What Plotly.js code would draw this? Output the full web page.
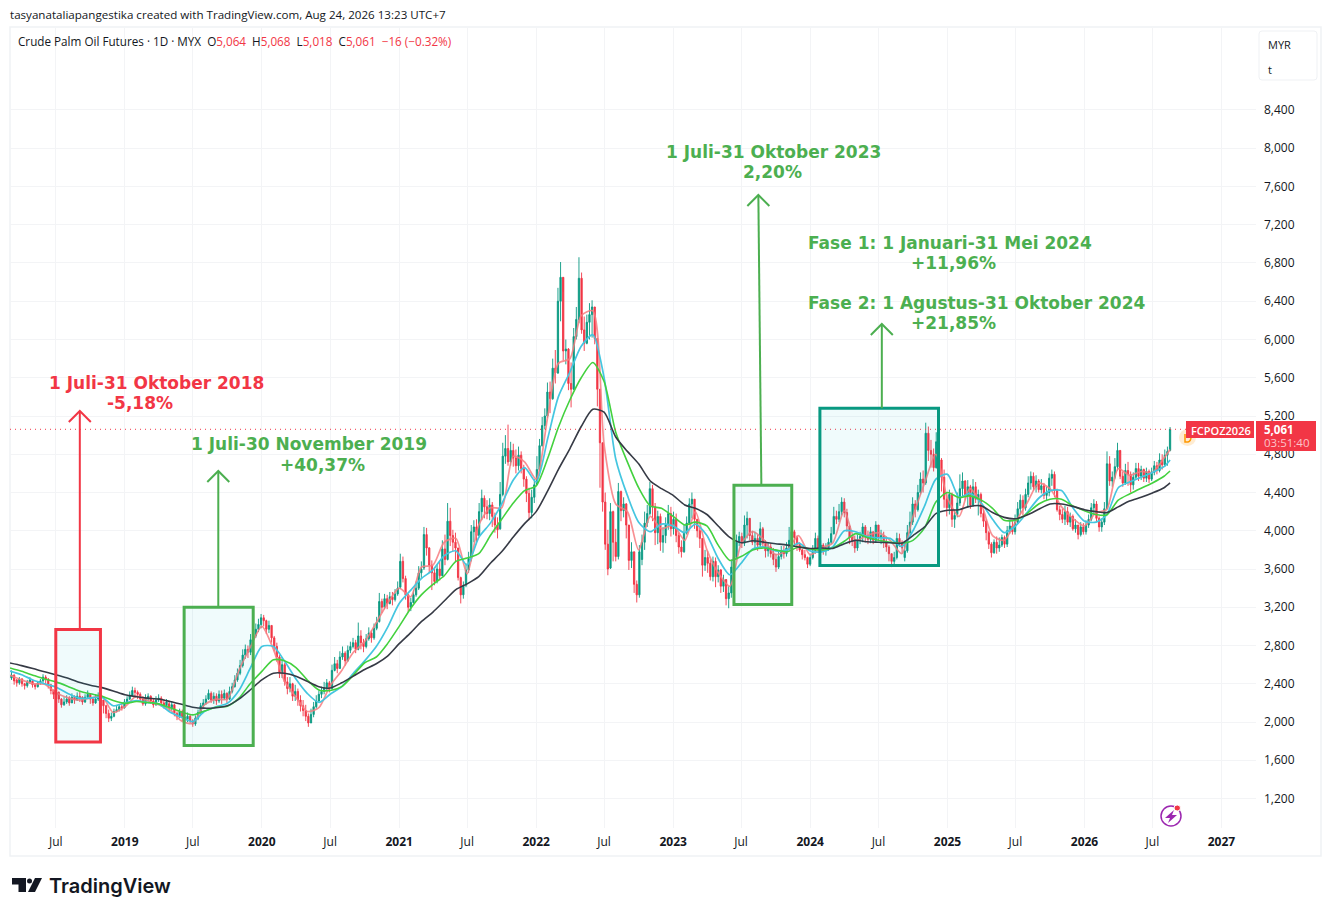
<!DOCTYPE html>
<html>
<head>
<meta charset="utf-8">
<title>Crude Palm Oil Futures</title>
<script src="https://cdn.plot.ly/plotly-3.0.1.min.js"></script>
<style>
  html, body { margin: 0; padding: 0; background: #fff; overflow: hidden; }
  #chart { width: 1331px; height: 916px; }
</style>
</head>
<body>
<div id="chart"></div>
<script>
// weekly bars, one row = 20 weeks
const barStart = '2018-03-05';
const opens = [
  2460,2490,2440,2410,2450,2400,2380,2420,2430,2390,2370,2410,2430,2470,2450,2390,2330,2280,2310,2240,
  2180,2210,2250,2200,2260,2230,2270,2260,2210,2260,2290,2240,2200,2240,2270,2230,2170,2090,2040,2060,
  2110,2130,2160,2150,2210,2240,2280,2330,2310,2290,2240,2190,2250,2270,2220,2180,2230,2250,2200,2170,
  2190,2150,2180,2090,2060,2110,2050,2030,2060,2010,1980,2040,2100,2170,2200,2240,2300,2230,2270,2220,
  2290,2250,2300,2240,2320,2370,2440,2510,2590,2700,2760,2730,2860,2900,2970,3020,3090,3060,2970,3010,
  2880,2790,2680,2510,2600,2420,2350,2400,2270,2320,2230,2170,2120,2060,1990,2080,2160,2220,2290,2320,
  2360,2410,2350,2540,2610,2560,2680,2720,2640,2750,2790,2830,2760,2900,2830,2790,2870,2930,2880,2980,
  3050,3260,3200,3290,3240,3310,3280,3340,3410,3680,3500,3330,3200,3250,3330,3400,3560,3610,3960,3820,
  3640,3560,3470,3600,3530,3810,3700,4100,3950,3880,3820,3510,3330,3430,3590,3710,3990,4040,3950,4200,
  4340,4250,4180,4270,4150,4060,4020,4380,4780,4860,4720,4840,4760,4680,4790,4650,4540,4390,4190,4350,
  4480,4640,4890,5100,5200,5450,5380,5700,5650,6400,6650,5880,5900,5540,5480,6030,6210,6640,6100,5960,
  6180,6260,6340,6010,5480,4920,4300,3860,3610,4200,3880,3730,4410,4210,4280,4060,3690,3780,3440,3330,
  3700,3880,4080,4180,4440,4250,3980,4150,3880,3950,4060,4180,4020,4120,3950,3830,3780,3980,4080,4280,
  4330,4120,4000,3920,3640,3720,3660,3520,3680,3520,3590,3420,3490,3290,3350,3620,3720,3880,3940,3870,
  4060,4130,3950,3880,3920,3850,4020,3870,3790,3830,3760,3700,3620,3730,3790,3760,3820,3900,3990,3930,
  3860,3800,3750,3720,3650,3720,3790,3920,3810,3850,3790,3820,3880,3970,4150,4120,4200,4300,4190,4050,
  3930,3890,3820,3900,3940,4040,3950,3910,3990,3900,4060,3930,3950,3880,3830,3760,3680,3720,3920,3880,
  3720,3790,3980,4090,4280,4220,4400,4540,4500,5020,4840,4800,4660,4930,4740,4560,4330,4240,4380,4120,
  4170,4290,4440,4520,4370,4460,4270,4460,4330,4380,4180,4100,3980,3860,3770,3880,3820,3850,3930,3860,
  4000,4050,3990,4090,4230,4320,4240,4380,4500,4570,4460,4520,4430,4470,4370,4400,4550,4590,4420,4220,
  4170,4120,4200,4090,4150,4020,4060,3960,4040,3990,4060,4120,4240,4280,4130,4040,4090,4230,4700,4520,
  4560,4670,4840,4570,4500,4630,4590,4480,4560,4650,4570,4640,4550,4620,4540,4610,4680,4630,4740,4690,4790,4840
];
const highs = [
  2540,2500,2450,2470,2460,2410,2440,2470,2440,2400,2430,2450,2500,2490,2460,2400,2340,2340,2320,2250,
  2260,2280,2270,2300,2280,2310,2320,2270,2290,2330,2300,2260,2290,2310,2310,2230,2180,2130,2100,2140,
  2170,2190,2190,2240,2270,2320,2370,2360,2330,2310,2270,2290,2300,2280,2250,2270,2290,2270,2240,2240,
  2210,2220,2190,2110,2140,2130,2080,2100,2080,2030,2070,2130,2200,2240,2280,2340,2320,2310,2300,2330,
  2330,2340,2310,2370,2410,2490,2560,2650,2760,2810,2800,2920,2960,3030,3080,3130,3120,3070,3060,3010,
  2900,2830,2700,2680,2620,2470,2470,2410,2390,2350,2280,2230,2180,2090,2140,2210,2280,2330,2370,2420,
  2450,2430,2600,2680,2650,2740,2790,2740,2800,2840,2880,2860,3040,2960,2870,2920,2990,2960,3030,3100,
  3350,3290,3340,3330,3360,3360,3390,3470,3760,3730,3530,3340,3300,3380,3470,3630,3680,4040,4030,3830,
  3690,3620,3650,3680,3900,3960,4290,4240,4010,3980,3720,3520,3470,3660,3780,4060,4110,4120,4290,4430,
  4370,4320,4340,4300,4190,4140,4510,4920,5000,5110,4930,4910,4850,4880,4830,4690,4570,4450,4430,4540,
  4780,4960,5190,5280,5550,5560,5800,5890,6540,6810,6500,6000,5910,5760,6120,6340,6860,6700,6240,6260,
  6380,6410,6340,5990,5460,4920,4400,4010,4290,4210,4020,4500,4420,4350,4290,3990,3880,3780,3480,3850,
  3960,4200,4270,4510,4480,4290,4210,4180,4040,4140,4270,4250,4200,4180,3980,3900,4060,4150,4340,4400,
  4300,4120,4040,3920,3800,3790,3700,3730,3720,3640,3600,3540,3420,3420,3700,3810,3960,3990,3980,4160,
  4200,4130,4000,3990,3960,4090,4040,3900,3880,3870,3820,3760,3790,3840,3840,3880,4040,4050,4010,3950,
  3880,3810,3800,3730,3760,3850,3980,3950,3900,3870,3870,3920,4040,4250,4210,4280,4350,4340,4230,4060,
  3960,3950,3960,3990,4080,4060,4000,4040,3990,4100,4050,4010,3990,3940,3850,3760,3780,3980,3970,3900,
  3880,4060,4200,4350,4320,4480,4610,4630,5130,5090,4950,4860,5030,4980,4760,4640,4400,4430,4400,4220,
  4400,4590,4610,4530,4530,4480,4540,4510,4430,4400,4220,4120,4000,3880,3910,3940,3930,3960,3950,4050,
  4110,4100,4170,4300,4380,4370,4440,4570,4620,4610,4580,4540,4540,4500,4460,4600,4640,4620,4440,4260,
  4230,4260,4250,4190,4170,4120,4060,4090,4080,4110,4170,4290,4330,4310,4150,4130,4300,4830,4780,4620,
  4760,4920,4810,4620,4700,4720,4620,4610,4710,4710,4680,4650,4660,4640,4660,4730,4720,4810,4800,4850,4880,5085
];
const lows = [
  2440,2390,2370,2390,2370,2340,2360,2400,2360,2340,2360,2390,2410,2390,2350,2290,2240,2230,2200,2150,
  2170,2190,2170,2200,2190,2220,2210,2180,2200,2240,2190,2170,2190,2220,2170,2090,2040,2000,2010,2050,
  2100,2110,2120,2140,2190,2230,2270,2270,2240,2210,2170,2170,2220,2190,2150,2170,2210,2170,2140,2150,
  2110,2120,2060,2020,2040,2010,1990,2000,1990,1950,1960,2020,2080,2150,2180,2230,2200,2190,2180,2200,
  2190,2230,2200,2230,2300,2360,2420,2490,2570,2660,2670,2700,2830,2880,2940,2980,3000,2920,2930,2830,
  2740,2630,2460,2460,2380,2290,2310,2220,2220,2170,2110,2060,2010,1950,1990,2050,2140,2210,2250,2290,
  2330,2310,2340,2530,2510,2560,2650,2590,2630,2720,2770,2720,2750,2760,2730,2770,2850,2830,2860,2960,
  3040,3140,3180,3180,3230,3220,3260,3320,3390,3460,3280,3150,3160,3240,3310,3380,3500,3590,3740,3560,
  3380,3430,3450,3480,3600,3640,3690,3840,3780,3680,3480,3240,3290,3410,3560,3680,3880,3860,3940,4110,
  4130,4120,4110,4040,3980,3920,4010,4360,4700,4680,4680,4670,4600,4630,4600,4460,4300,4110,4130,4290,
  4500,4620,4880,5060,5180,5230,5370,5540,5640,6190,5780,5740,5470,5290,5470,6000,6170,6060,5880,5950,
  6000,6020,5950,5300,4450,4200,3800,3535,3600,3680,3680,3700,4100,4140,3920,3590,3610,3350,3250,3300,
  3640,3800,4040,4160,4100,3850,3860,3790,3770,3870,4010,3940,3960,3880,3760,3720,3770,3960,4060,4130,
  4020,3930,3820,3520,3580,3560,3480,3470,3410,3460,3350,3360,3220,3190,3300,3560,3700,3840,3820,3840,
  3920,3900,3850,3820,3790,3830,3830,3720,3730,3720,3640,3570,3600,3700,3710,3730,3790,3900,3850,3790,
  3780,3700,3690,3610,3630,3700,3760,3780,3770,3750,3740,3790,3860,3960,4070,4090,4160,4140,3990,3860,
  3840,3770,3790,3860,3880,3880,3860,3870,3860,3880,3890,3860,3820,3780,3680,3620,3640,3700,3830,3760,
  3680,3770,3960,4060,4140,4200,4380,4400,4480,4730,4660,4620,4650,4530,4410,4240,4150,4170,4040,4030,
  4140,4260,4360,4320,4240,4230,4250,4290,4160,4140,4040,3900,3810,3720,3760,3760,3780,3830,3820,3830,
  3970,3960,3960,4070,4170,4160,4210,4350,4430,4420,4400,4400,4390,4330,4320,4360,4470,4350,4200,4110,
  4080,4060,4060,4040,4000,3980,3910,3940,3960,3960,4030,4100,4170,4090,3990,3990,4060,4230,4470,4460,
  4540,4630,4540,4460,4480,4470,4400,4430,4540,4520,4530,4510,4510,4500,4520,4580,4590,4610,4640,4670,4680,4830
];
const closes = [
  2490,2430,2410,2450,2400,2380,2420,2440,2390,2370,2410,2430,2470,2450,2390,2330,2290,2310,2240,2180,
  2210,2240,2200,2260,2230,2270,2250,2210,2260,2290,2240,2200,2240,2270,2230,2170,2090,2040,2060,2110,
  2130,2160,2150,2210,2240,2280,2330,2310,2290,2240,2190,2250,2270,2220,2180,2230,2250,2200,2170,2210,
  2150,2180,2090,2060,2110,2050,2030,2060,2010,1980,2040,2100,2170,2200,2240,2300,2230,2270,2220,2290,
  2250,2300,2240,2320,2370,2440,2510,2590,2700,2760,2730,2860,2900,2970,3020,3090,3060,2970,3010,2880,
  2790,2680,2510,2600,2420,2350,2400,2270,2320,2230,2170,2120,2060,1990,2080,2160,2220,2290,2320,2360,
  2410,2350,2540,2610,2560,2680,2720,2640,2750,2790,2830,2760,2900,2830,2790,2870,2930,2880,2980,3040,
  3260,3200,3290,3240,3310,3280,3340,3400,3680,3500,3330,3200,3250,3330,3400,3560,3600,3960,3820,3640,
  3560,3470,3600,3530,3810,3700,4100,3950,3880,3820,3510,3330,3430,3590,3710,3990,4040,3950,4200,4340,
  4250,4180,4270,4150,4060,4010,4380,4780,4860,4720,4840,4760,4680,4790,4650,4540,4390,4190,4350,4480,
  4640,4890,5100,5200,5450,5380,5700,5650,6400,6650,5880,5900,5540,5480,6030,6210,6640,6100,5960,6180,
  6260,6340,6010,5480,4920,4300,3860,3600,4200,3880,3730,4410,4210,4280,4060,3690,3780,3440,3330,3780,
  3880,4080,4180,4440,4250,3980,4150,3880,3950,4060,4180,4020,4120,3950,3830,3780,3980,4080,4280,4330,
  4120,4000,3920,3640,3720,3660,3520,3680,3520,3590,3420,3490,3290,3350,3620,3720,3880,3940,3870,4060,
  4130,3950,3880,3920,3850,4020,3870,3790,3830,3760,3700,3620,3730,3790,3760,3820,3900,3990,3930,3860,
  3800,3750,3720,3650,3720,3790,3920,3810,3850,3790,3820,3880,3970,4150,4120,4200,4300,4190,4050,3930,
  3890,3820,3900,3940,4040,3950,3910,3990,3900,4060,3930,3950,3880,3830,3760,3680,3720,3920,3880,3820,
  3790,3980,4090,4280,4220,4400,4540,4500,5020,4840,4800,4660,4930,4740,4560,4330,4240,4380,4120,4160,
  4290,4440,4520,4370,4460,4270,4460,4330,4380,4180,4100,3980,3860,3770,3880,3820,3850,3930,3860,4000,
  4050,3990,4090,4230,4320,4240,4380,4500,4570,4460,4520,4430,4470,4370,4400,4550,4590,4420,4220,4170,
  4120,4200,4090,4150,4020,4060,3960,4040,3990,4060,4120,4240,4280,4130,4040,4090,4230,4700,4520,4560,
  4670,4840,4570,4500,4630,4590,4480,4560,4650,4570,4640,4550,4620,4540,4610,4680,4630,4740,4690,4790,4830,5061
];

// moving averages, read once a month from 2018-03 plus the last bar
const maEnd = '2026-08-17';
const maFast = [
  2490,2440,2400,2395,2310,2255,2230,2250,2270,2100,
  2160,2270,2225,2180,2130,2010,1985,2180,2240,2240,
  2540,2780,3000,2760,2430,2260,2110,2150,2380,2540,
  2730,2840,3040,3240,3400,3310,3620,3640,3880,3920,
  3550,4060,4240,4240,4780,4720,4540,5200,5750,5800,
  6250,6300,4900,4280,4200,3800,4150,4020,4060,3900,
  4200,3800,3560,3420,3860,3990,3900,3750,3800,3950,
  3750,3820,3870,4210,3900,3950,3980,3900,3760,4150,
  4500,4800,4340,4150,4440,4280,3950,3900,4090,4290,
  4500,4440,4250,4130,4050,4190,4220,4650,4580,4620,
  4610,4760,4850
];
const maMid = [
  2533,2495,2440,2400,2366,2300,2250,2250,2260,2170,
  2200,2225,2205,2190,2105,2050,2005,2110,2160,2195,
  2330,2560,2790,2790,2640,2450,2300,2205,2290,2370,
  2510,2640,2790,2990,3240,3380,3500,3590,3740,3790,
  3640,3930,4080,4280,4530,4660,4510,4970,5400,5660,
  5930,6050,5600,4750,4370,4090,3990,4070,4050,3980,
  4070,3950,3710,3540,3660,3810,3830,3790,3800,3870,
  3790,3780,3830,4000,3990,3940,3925,3920,3835,4000,
  4260,4540,4590,4350,4390,4290,4120,3980,4050,4190,
  4340,4420,4420,4240,4100,4090,4165,4450,4510,4560,
  4610,4670,4740
];
const maSlow = [
  2565,2530,2490,2450,2420,2375,2325,2295,2270,2225,
  2195,2215,2205,2190,2150,2105,2075,2115,2155,2165,
  2250,2400,2530,2650,2640,2570,2440,2335,2330,2370,
  2490,2620,2680,2820,3000,3190,3330,3440,3530,3680,
  3715,3760,3950,4120,4290,4420,4470,4760,5080,5370,
  5600,5760,5560,5030,4720,4450,4260,4235,4150,4060,
  4090,4050,3850,3690,3730,3800,3820,3800,3780,3830,
  3810,3800,3820,3890,3970,3930,3900,3880,3870,3900,
  4030,4300,4400,4345,4365,4320,4235,4110,4110,4180,
  4280,4330,4330,4260,4210,4170,4165,4320,4385,4445,
  4500,4570,4625
];
const maLong = [
  2617,2590,2560,2525,2495,2460,2415,2385,2360,2325,
  2285,2265,2250,2240,2215,2185,2155,2145,2150,2170,
  2240,2335,2440,2510,2510,2480,2425,2370,2355,2410,
  2480,2550,2610,2690,2820,2935,3050,3150,3265,3385,
  3445,3520,3660,3780,3935,4075,4200,4420,4640,4860,
  5090,5270,5240,4980,4830,4700,4520,4440,4370,4270,
  4235,4170,4050,3930,3875,3895,3880,3865,3850,3830,
  3815,3820,3815,3865,3900,3885,3880,3875,3870,3950,
  4040,4180,4215,4220,4255,4260,4190,4140,4125,4165,
  4225,4280,4280,4255,4220,4200,4190,4250,4310,4350,
  4395,4450,4500
];

const priceTicks = [1200,1600,2000,2400,2800,3200,3600,4000,4400,4800,5200,5600,6000,6400,6800,7200,7600,8000,8400];
const priceTickLabels = ['1,200','1,600','2,000','2,400','2,800','3,200','3,600','4,000','4,400','4,800','5,200','5,600','6,000','6,400','6,800','7,200','7,600','8,000','8,400'];
const timeTicks = ['2018-07-01','2019-01-01','2019-07-01','2020-01-01','2020-07-01','2021-01-01','2021-07-01','2022-01-01','2022-07-01','2023-01-01','2023-07-01','2024-01-01','2024-07-01','2025-01-01','2025-07-01','2026-01-01','2026-07-01','2027-01-01'];
const timeTickLabels = ['Jul','<b>2019</b>','Jul','<b>2020</b>','Jul','<b>2021</b>','Jul','<b>2022</b>','Jul','<b>2023</b>','Jul','<b>2024</b>','Jul','<b>2025</b>','Jul','<b>2026</b>','Jul','<b>2027</b>'];

// drawings on the chart: box corners and arrows in date / price
const boxStart = ['2018-07-01','2019-06-08','2023-06-12','2024-01-27'];
const boxEnd = ['2018-10-28','2019-12-09','2023-11-13','2024-12-08'];
const boxTop = [2968,3199,4475,5281];
const boxBottom = [1791,1754,3230,3638];
const boxColors = ['#F23645','#4CAF50','#4CAF50','#089981'];
const arrowFromDate = ['2018-09-03','2019-09-07','2023-08-24','2024-07-10'];
const arrowFromPrice = [2968,3199,4475,5281];
const arrowToDate = ['2018-09-03','2019-09-07','2023-08-16','2024-07-10'];
const arrowToPrice = [5252,4625,7511,6162];
const arrowColors = ['#F23645','#4CAF50','#4CAF50','#4CAF50'];

const noteTexts = ['1 Juli-31 Oktober 2018','-5,18%','1 Juli-30 November 2019','+40,37%','1 Juli-31 Oktober 2023','2,20%','Fase 1: 1 Januari-31 Mei 2024','+11,96%','Fase 2: 1 Agustus-31 Oktober 2024','+21,85%'];
const noteLeft = [49,107,191,280,666,743,808,911,808,911];
const noteMid = [383,403,444,465,152,172,243,263,303,323];
const noteColors = ['#F23645','#F23645','#4CAF50','#4CAF50','#4CAF50','#4CAF50','#4CAF50','#4CAF50','#4CAF50','#4CAF50'];

const lastPrice = 5061;
const RED = '#F23645';
const UI_FONT = 'Open Sans, sans-serif';

const W = 1331, H = 916;
const fx = px => px / W;
const fy = py => 1 - py / H;

const barDates = closes.map((_, i) => {
    const d = new Date(barStart + 'T00:00:00Z');
    d.setUTCDate(d.getUTCDate() + i * 7);
    return d.toISOString().slice(0, 10);
});
const maDates = maFast.slice(0, -1).map((_, i) => {
    const d = new Date(Date.UTC(2018, 2 + i, 1));
    return d.toISOString().slice(0, 10);
}).concat([maEnd]);

const candles = {
    type: 'candlestick',
    x: barDates, open: opens, high: highs, low: lows, close: closes,
    increasing: { line: { color: '#089981', width: 0.9 }, fillcolor: '#089981' },
    decreasing: { line: { color: RED, width: 0.9 }, fillcolor: RED },
    whiskerwidth: 0,
    hoverinfo: 'skip',
    showlegend: false
};

function maLine(values, color, width) {
    return {
        type: 'scatter', mode: 'lines',
        x: maDates, y: values,
        line: { color: color, width: width, shape: 'spline', smoothing: 0.7 },
        hoverinfo: 'skip', showlegend: false
    };
}

const traces = [
    candles,
    maLine(maFast, 'rgba(247,124,128,0.85)', 1.7),
    maLine(maMid, '#45C6E0', 1.7),
    maLine(maSlow, '#43D13E', 1.6),
    maLine(maLong, '#363A45', 1.6)
];

const shapes = [];

// frame round the chart
shapes.push({ type: 'rect', xref: 'paper', yref: 'paper', x0: fx(10), x1: fx(1321), y0: fy(856), y1: fy(27), line: { color: '#F0F2F5', width: 1.5 }, layer: 'below' });

// last price line
shapes.push({ type: 'line', xref: 'paper', yref: 'y', x0: fx(10), x1: fx(1186), y0: lastPrice, y1: lastPrice, line: { color: RED, width: 1, dash: '1px 4px' } });

// boxes with their arrows
boxStart.forEach((d, i) => {
    shapes.push({
        type: 'rect', x0: d, x1: boxEnd[i], y0: boxBottom[i], y1: boxTop[i],
        fillcolor: 'rgba(0,188,212,0.06)', line: { color: boxColors[i], width: 3 }, layer: 'above'
    });
});
arrowFromDate.forEach((d, i) => {
    shapes.push({ type: 'line', x0: d, x1: arrowToDate[i], y0: arrowFromPrice[i], y1: arrowToPrice[i], line: { color: arrowColors[i], width: 2 } });
    shapes.push({
        type: 'path', xsizemode: 'pixel', ysizemode: 'pixel', xanchor: arrowToDate[i], yanchor: arrowToPrice[i],
        path: 'M -11 -11 L 0 0 L 11 -11', line: { color: arrowColors[i], width: 2 }
    });
});

// "D" marker next to the last bar, the label box sits over it
shapes.push({ type: 'circle', xref: 'paper', yref: 'paper', x0: fx(1179), x1: fx(1196), y0: fy(446), y1: fy(429), fillcolor: 'rgba(255,152,0,0.18)', line: { width: 0 } });
shapes.push({ type: 'path', xref: 'paper', yref: 'paper', path: `M ${fx(1185)} ${fy(434)} L ${fx(1185)} ${fy(442)} L ${fx(1188)} ${fy(442)} Q ${fx(1191)} ${fy(441)} ${fx(1191)} ${fy(437)} L ${fx(1191)} ${fy(434)}`, line: { color: '#FF9800', width: 1.5 } });

// price labels on the right
shapes.push({ type: 'rect', xref: 'paper', yref: 'paper', x0: fx(1186), x1: fx(1254), y0: fy(438), y1: fy(421), fillcolor: RED, line: { width: 0 } });
shapes.push({ type: 'rect', xref: 'paper', yref: 'paper', x0: fx(1256), x1: fx(1316), y0: fy(451), y1: fy(421), fillcolor: RED, line: { width: 0 } });

// currency / unit box
shapes.push({ type: 'path', xref: 'paper', yref: 'paper', path: `M ${fx(1262)} ${fy(31)} L ${fx(1314)} ${fy(31)} Q ${fx(1317)} ${fy(31)} ${fx(1317)} ${fy(34)} L ${fx(1317)} ${fy(77)} Q ${fx(1317)} ${fy(80)} ${fx(1314)} ${fy(80)} L ${fx(1262)} ${fy(80)} Q ${fx(1259)} ${fy(80)} ${fx(1259)} ${fy(77)} L ${fx(1259)} ${fy(34)} Q ${fx(1259)} ${fy(31)} ${fx(1262)} ${fy(31)} Z`, fillcolor: '#fff', line: { color: '#EFF1F4', width: 1 } });

// lightning badge
shapes.push({ type: 'circle', xref: 'paper', yref: 'paper', x0: fx(1161), x1: fx(1181), y0: fy(826), y1: fy(806), line: { color: '#9C27B0', width: 1.5 } });
shapes.push({ type: 'path', xref: 'paper', yref: 'paper', path: `M ${fx(1174)} ${fy(810)} L ${fx(1165)} ${fy(818)} L ${fx(1170)} ${fy(818)} L ${fx(1168)} ${fy(823)} L ${fx(1177)} ${fy(815)} L ${fx(1172)} ${fy(815)} Z`, fillcolor: '#9C27B0', line: { width: 0 } });
shapes.push({ type: 'circle', xref: 'paper', yref: 'paper', x0: fx(1174), x1: fx(1180.5), y0: fy(811), y1: fy(805), fillcolor: RED, line: { color: '#fff', width: 1 } });

// logo mark
shapes.push({ type: 'path', xref: 'paper', yref: 'paper', path: `M ${fx(12)} ${fy(878)} L ${fx(26)} ${fy(878)} L ${fx(26)} ${fy(892)} L ${fx(18.5)} ${fy(892)} L ${fx(18.5)} ${fy(884.5)} L ${fx(12)} ${fy(884.5)} Z`, fillcolor: '#131722', line: { width: 0 } });
shapes.push({ type: 'circle', xref: 'paper', yref: 'paper', x0: fx(27), x1: fx(32), y0: fy(883.5), y1: fy(878.5), fillcolor: '#131722', line: { width: 0 } });
shapes.push({ type: 'path', xref: 'paper', yref: 'paper', path: `M ${fx(35)} ${fy(878)} L ${fx(42)} ${fy(878)} L ${fx(35)} ${fy(892)} L ${fx(28)} ${fy(892)} Z`, fillcolor: '#131722', line: { width: 0 } });

function pageText(text, px, py, size, color, extra) {
    return Object.assign({
        xref: 'paper', yref: 'paper', x: fx(px), y: fy(py),
        xanchor: 'left', yanchor: 'middle', showarrow: false, text: text,
        borderpad: 0, borderwidth: 0,
        font: { family: UI_FONT, size: size, color: color }
    }, extra || {});
}
const redSpan = t => `<span style="color:${RED}">${t}</span>`;

const annotations = noteTexts.map((t, i) => pageText(t, noteLeft[i], noteMid[i], 17, noteColors[i], {
    font: { family: 'DejaVu Sans, sans-serif', size: 17, color: noteColors[i], weight: 700 }
}));

annotations.push(pageText('tasyanataliapangestika created with TradingView.com, Aug 24, 2026 13:23 UTC+7', 10, 15, 11.6, '#131722'));
annotations.push(pageText(
    'Crude Palm Oil Futures · 1D · MYX&nbsp;&nbsp;O' + redSpan('5,064') + '&nbsp;&nbsp;H' + redSpan('5,068') + '&nbsp;&nbsp;L' + redSpan('5,018') + '&nbsp;&nbsp;C' + redSpan('5,061') + '&nbsp;&nbsp;' + redSpan('−16 (−0.32%)'),
    18, 41.5, 11.7, '#131722'));
annotations.push(pageText('MYR', 1268, 44, 11, '#131722'));
annotations.push(pageText('t', 1268, 69, 11, '#131722'));
annotations.push(pageText('FCPOZ2026', 1191, 430, 11, '#fff', { font: { family: UI_FONT, size: 11, color: '#fff', weight: 600 } }));
annotations.push(pageText('5,061', 1264, 429, 11.5, '#fff', { font: { family: UI_FONT, size: 11.5, color: '#fff', weight: 700 } }));
annotations.push(pageText('03:51:40', 1264, 443, 11.5, '#FCC4C9'));
annotations.push(pageText('TradingView', 49, 886, 20, '#131722', { font: { family: 'Inter, sans-serif', size: 20, color: '#131722', weight: 600 } }));

const layout = {
    width: W, height: H,
    margin: { l: 0, r: 0, t: 0, b: 0 },
    paper_bgcolor: '#fff', plot_bgcolor: '#fff',
    showlegend: false,
    font: { family: UI_FONT, size: 12, color: '#131722' },
    xaxis: {
        type: 'date',
        domain: [fx(10), fx(1256)],
        range: ['2018-03-01', '2027-04-03'],
        tickvals: timeTicks, ticktext: timeTickLabels,
        showgrid: true, gridcolor: '#F3F4F6', gridwidth: 1,
        zeroline: false, showline: false, ticks: '',
        ticklabelstandoff: 5,
        rangeslider: { visible: false },
        tickfont: { family: UI_FONT, size: 12, color: '#131722' },
        fixedrange: true
    },
    yaxis: {
        side: 'right',
        domain: [fy(828), fy(28)],
        range: [892, 9257],
        tickvals: priceTicks, ticktext: priceTickLabels,
        showgrid: true, gridcolor: '#F3F4F6', gridwidth: 1,
        zeroline: false, showline: false, ticks: '',
        ticklabelstandoff: 7,
        tickfont: { family: UI_FONT, size: 12, color: '#131722' },
        fixedrange: true
    },
    shapes: shapes,
    annotations: annotations
};

Plotly.newPlot('chart', traces, layout, { displayModeBar: false, staticPlot: true });
</script>
</body>
</html>
